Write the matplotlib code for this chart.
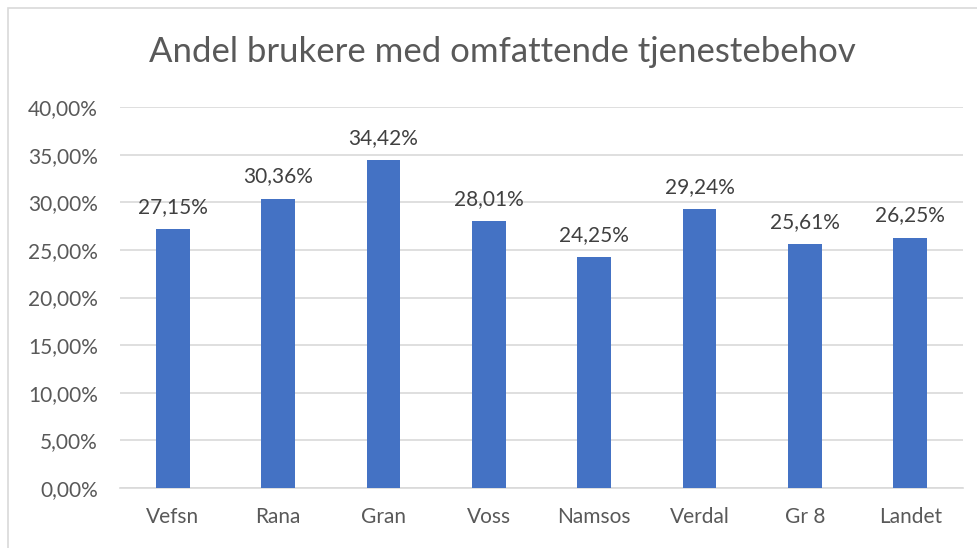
import matplotlib
matplotlib.use("Agg")
import matplotlib.pyplot as plt
from matplotlib.patches import Rectangle
from matplotlib.ticker import FuncFormatter

kommuner = ["Vefsn", "Rana", "Gran", "Voss", "Namsos", "Verdal", "Gr 8", "Landet"]
andel = [27.15, 30.36, 34.42, 28.01, 24.25, 29.24, 25.61, 26.25]

plt.rcParams['font.family'] = ['Lato', 'DejaVu Sans']
grey_txt = '#595959'

fig = plt.figure(figsize=(9.78, 5.48), dpi=100)
ax = fig.add_axes([120/978, 1 - 488/548, (963 - 120)/978, (488 - 107)/548])

# outer chart border (only top/left visible in the picture)
fig.patches.append(Rectangle((8/978, -0.2), 1.2, 1 - 8/548 + 0.2, transform=fig.transFigure,
                             fill=False, edgecolor='#D9D9D9', linewidth=1.2))

x = range(len(kommuner))
bars = ax.bar(x, andel, width=0.32, color='#4472C4', zorder=3)
for xi, v in zip(x, andel):
    ax.text(xi, v + 1.3, f"{v:.2f}%".replace('.', ','), ha='center', va='bottom',
            fontsize=15, color='#404040')

ax.set_xlim(-0.5, len(kommuner) - 0.5)
ax.set_ylim(0, 40)
ax.set_yticks(range(0, 41, 5))
ax.yaxis.set_major_formatter(FuncFormatter(lambda v, p: f"{v:.2f}%".replace('.', ',')))
ax.set_xticks(list(x))
ax.set_xticklabels(kommuner)
ax.grid(axis='y', color='#D9D9D9', linewidth=1.2, zorder=0)
for s in ['top', 'right', 'left']:
    ax.spines[s].set_visible(False)
ax.spines['bottom'].set_color('#D9D9D9')
ax.spines['bottom'].set_linewidth(1.2)
ax.tick_params(length=0, labelsize=15, labelcolor=grey_txt)
ax.tick_params(axis='x', pad=14)
ax.tick_params(axis='y', pad=16)

fig.text(502/978, 1 - 52/548, "Andel brukere med omfattende tjenestebehov", ha='center', va='center',
         fontsize=25, color=grey_txt)

fig.savefig("out.png", dpi=100)
